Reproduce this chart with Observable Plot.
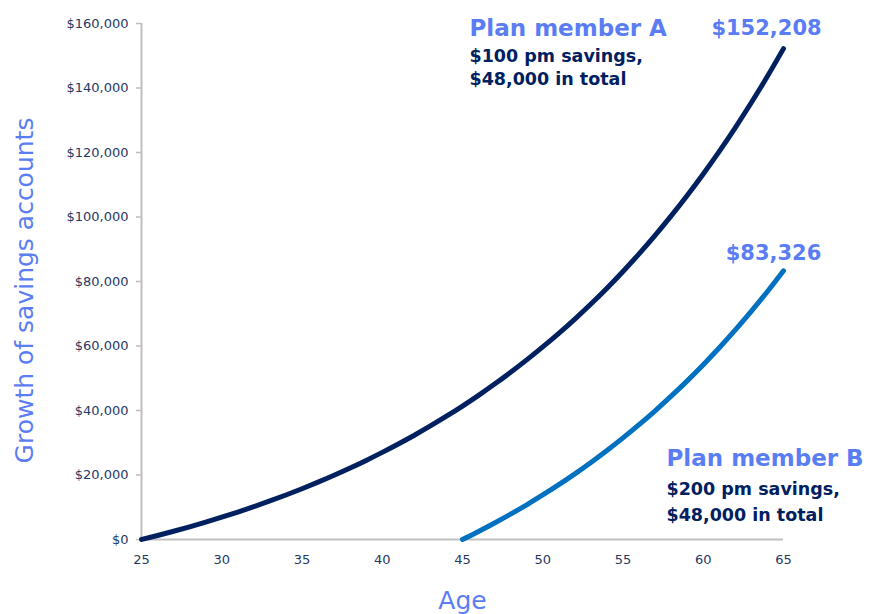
<!DOCTYPE html>
<html><head><meta charset="utf-8">
<script src="https://cdn.jsdelivr.net/npm/d3@7"></script>
<script src="https://cdn.jsdelivr.net/npm/@observablehq/plot@0.6"></script>
<style>body{margin:0;background:#fff}#chart svg{display:block}</style>
</head><body><div id="chart"></div>
<script>
// Plan member A: $100 per month from age 25 to 65
const agesA = [25,26,27,28,29,30,31,32,33,34,35,36,37,38,39,40,41,42,43,44,45,46,47,48,49,50,51,52,53,54,55,56,57,58,59,60,61,62,63,64,65];
const valuesA = [0,1250,2560,3940,5390,6910,8510,10190,11950,13800,15740,17780,19920,22170,24530,27010,29610,32340,35210,38220,41380,44700,48190,51850,55690,59720,63920,68350,73020,77930,83120,88580,94320,100350,106690,113360,120370,127740,135490,143640,152208];
// Plan member B: $200 per month from age 45 to 65
const agesB = [45,46,47,48,49,50,51,52,53,54,55,56,57,58,59,60,61,62,63,64,65];
const valuesB = [0,2493,5113,7867,10761,13803,17000,20360,23891,27602,31502,35601,39909,44437,49196,54197,59453,64977,70783,76885,83326];
const seriesNames = ["Plan member A", "Plan member B"];
const seriesNotes = ["$100 pm savings,\n$48,000 in total", "$200 pm savings,\n$48,000 in total"];
const xTicks = [25,30,35,40,45,50,55,60,65];
const yTicks = [0,20000,40000,60000,80000,100000,120000,140000,160000];
const xLabel = "Age";
const yLabel = "Growth of savings accounts";

const dataA = agesA.map((a, i) => ({age: a, value: valuesA[i]}));
const dataB = agesB.map((a, i) => ({age: a, value: valuesB[i]}));
const endA = dataA[dataA.length - 1];
const endB = dataB[dataB.length - 1];
const money = d => "$" + d3.format(",")(d);

const navy = "#002060", blueB = "#0070C0", accent = "#5B7DF4", grey = "#BFBFBF", tickText = "#1F3864";
const font = "DejaVu Sans";

const chart = Plot.plot({
  width: 876, height: 614,
  marginLeft: 141, marginRight: 93, marginTop: 23, marginBottom: 75,
  style: {fontFamily: font, background: "#fff"},
  x: {domain: [xTicks[0], xTicks[xTicks.length - 1]]},
  y: {domain: [yTicks[0], yTicks[yTicks.length - 1]]},
  marks: [
    Plot.axisY(yTicks, {tickSize: 5, tickPadding: 8, tickFormat: money, fontSize: 13, stroke: grey, fill: tickText, strokeWidth: 1.5, label: null}),
    Plot.axisX(xTicks, {tickSize: 0, tickPadding: 15, fontSize: 13, fill: tickText, label: null}),
    Plot.ruleY([yTicks[0]], {stroke: grey, strokeWidth: 2}),
    Plot.ruleX([xTicks[0]], {stroke: grey, strokeWidth: 2}),
    Plot.line(dataA, {x: "age", y: "value", stroke: navy, strokeWidth: 5, curve: "monotone-x", strokeLinecap: "round"}),
    Plot.line(dataB, {x: "age", y: "value", stroke: blueB, strokeWidth: 5, curve: "monotone-x", strokeLinecap: "round"}),
    Plot.text([endA], {x: "age", y: "value", text: d => money(d.value), dx: -17, dy: -20, fontSize: 21, fontWeight: "bold", fill: accent}),
    Plot.text([endB], {x: "age", y: "value", text: d => money(d.value), dx: -10, dy: -18, fontSize: 21, fontWeight: "bold", fill: accent}),
    Plot.text([seriesNames[0]], {frameAnchor: "top-left", dx: 328, dy: 5, lineAnchor: "middle", textAnchor: "start", fontSize: 23, fontWeight: "bold", fill: accent}),
    Plot.text([seriesNotes[0]], {frameAnchor: "top-left", dx: 328, dy: 22, lineAnchor: "top", textAnchor: "start", lineHeight: 1.33, fontSize: 17.5, fontWeight: "bold", fill: navy}),
    Plot.text([seriesNames[1]], {frameAnchor: "top-left", dx: 525, dy: 435, lineAnchor: "middle", textAnchor: "start", fontSize: 23, fontWeight: "bold", fill: accent}),
    Plot.text([seriesNotes[1]], {frameAnchor: "top-left", dx: 525, dy: 453, lineAnchor: "top", textAnchor: "start", lineHeight: 1.5, fontSize: 17.5, fontWeight: "bold", fill: navy}),
    Plot.text([yLabel], {frameAnchor: "left", rotate: -90, dx: -117, dy: 9, textAnchor: "middle", lineAnchor: "middle", fontSize: 25, fill: accent}),
    Plot.text([xLabel], {frameAnchor: "bottom", dy: 61, textAnchor: "middle", lineAnchor: "middle", fontSize: 25, fill: accent})
  ]
});
document.getElementById("chart").append(chart);
</script>
</body></html>
